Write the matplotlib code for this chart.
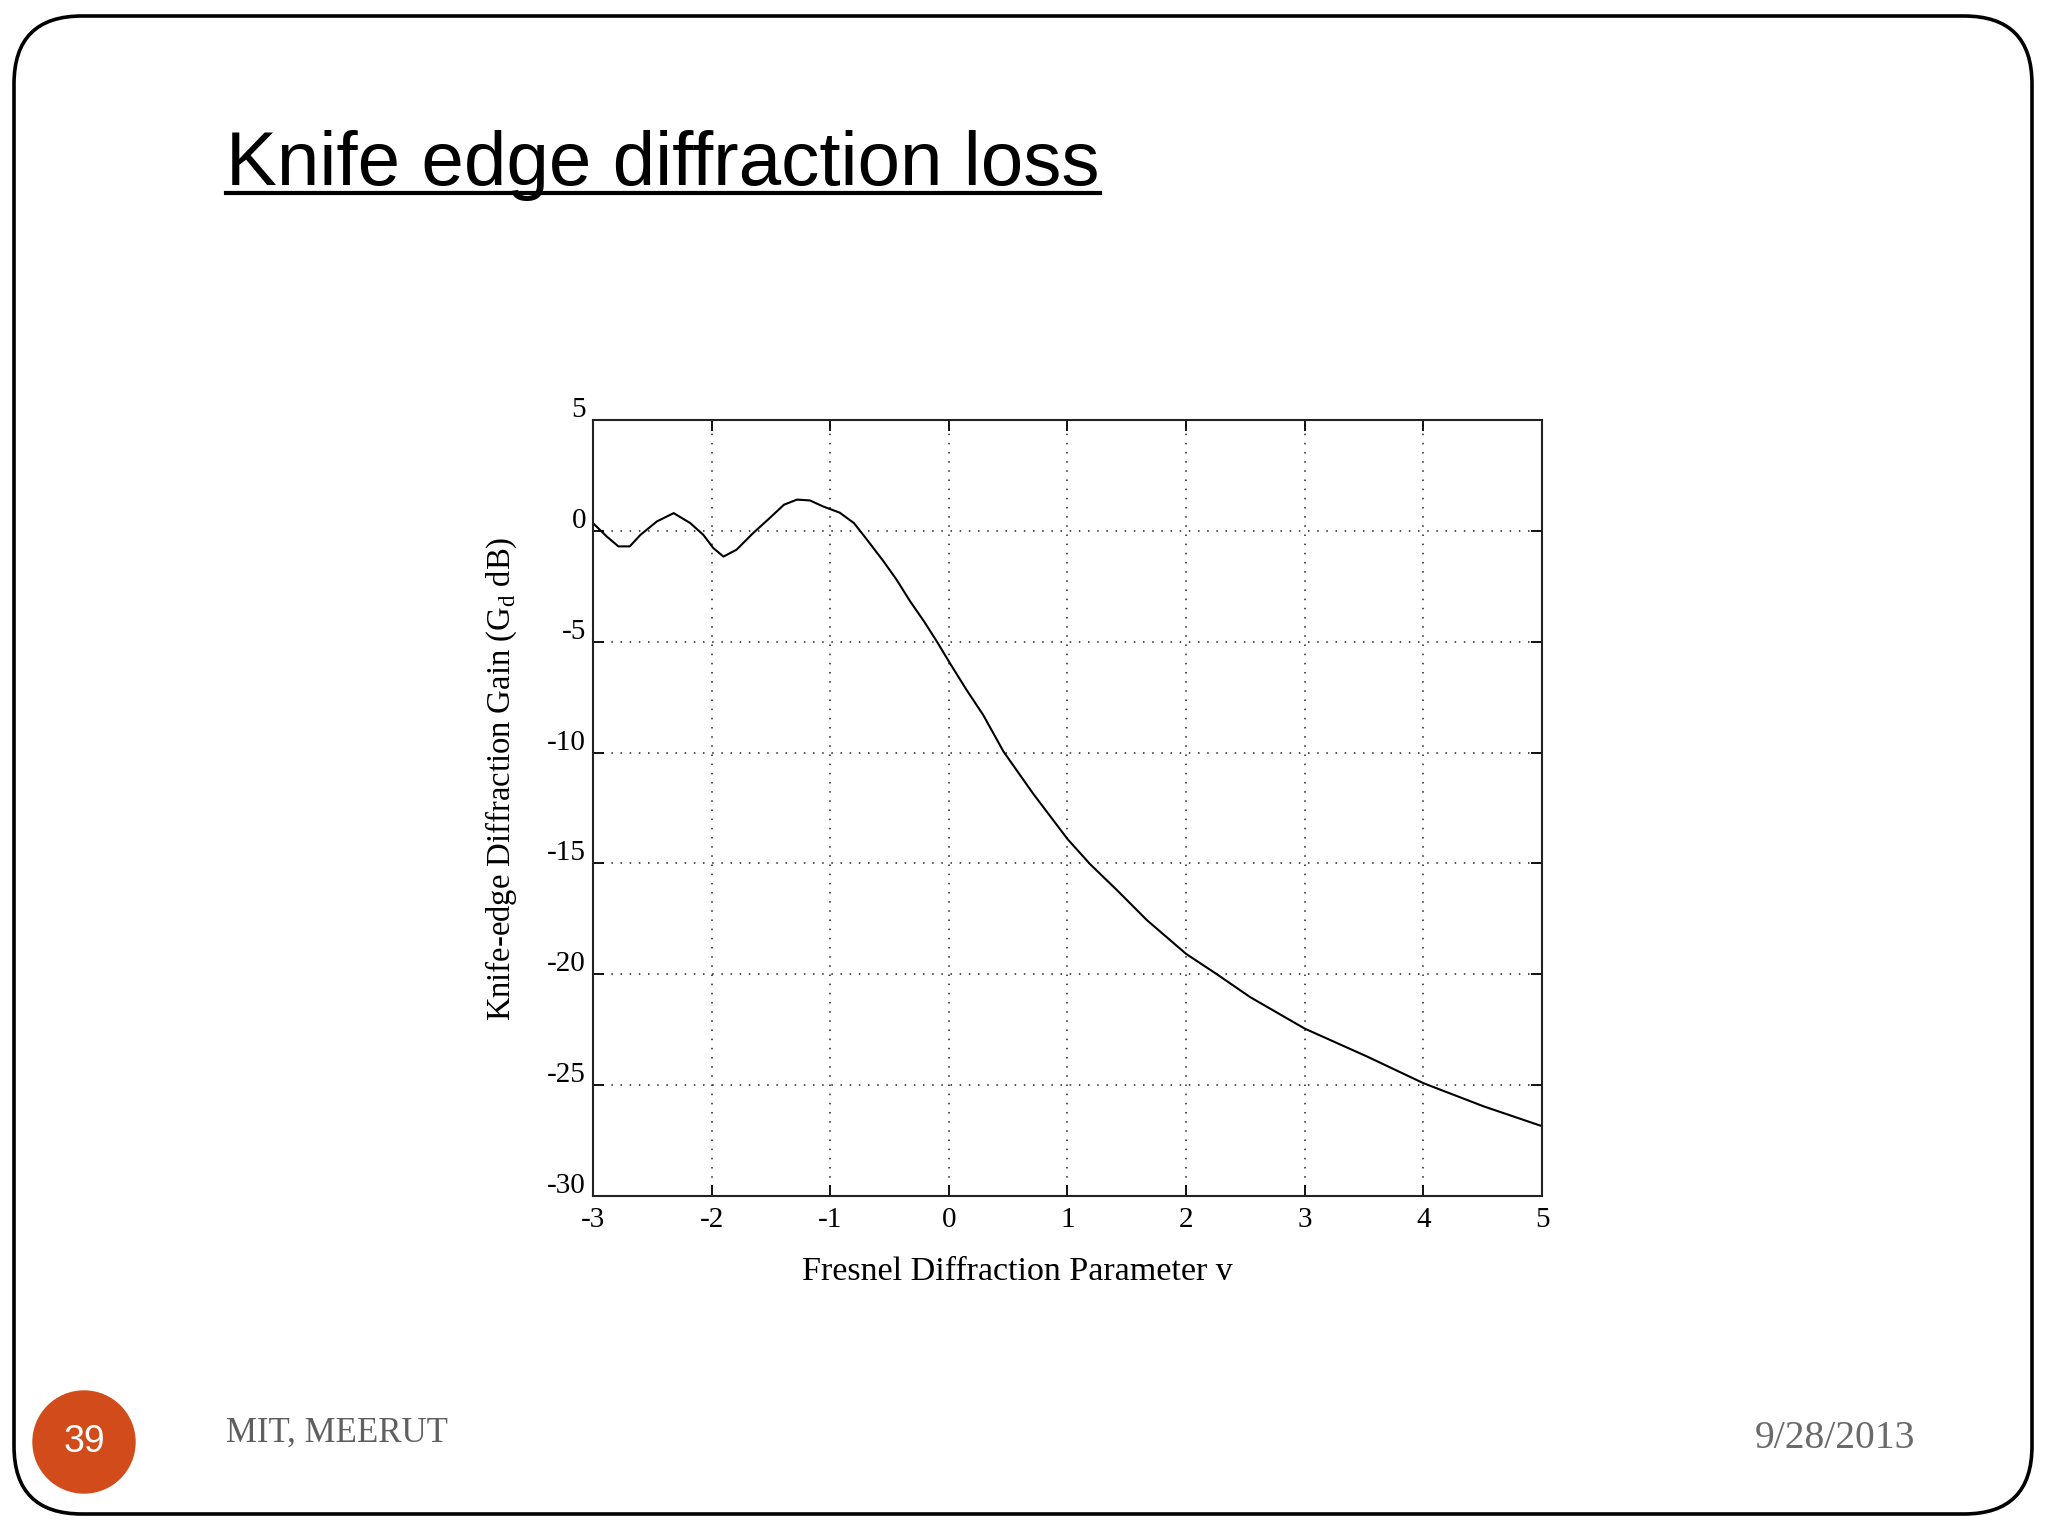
# knife edge diffraction gain - slide recreation
import matplotlib.pyplot as plt
from matplotlib.patches import FancyBboxPatch, Circle
from matplotlib.transforms import ScaledTranslation

# values
v_param = [-3.0, -2.885, -2.786, -2.69, -2.60, -2.46, -2.32, -2.18, -2.07,
           -1.985, -1.90, -1.79, -1.65, -1.51, -1.39, -1.28, -1.17, -1.06,
           -0.92, -0.80, -0.69, -0.55, -0.44, -0.325, -0.21, -0.10, 0.01,
           0.15, 0.29, 0.46, 0.71, 1.0, 1.19, 1.42, 1.67, 2.0, 2.26,
           2.54, 3.0, 3.53, 4.0, 4.51, 5.0]
gain_db = [0.35, -0.25, -0.70, -0.70, -0.18, 0.43, 0.80, 0.35, -0.18,
           -0.78, -1.16, -0.85, -0.10, 0.58, 1.18, 1.41, 1.37, 1.10,
           0.82, 0.35, -0.40, -1.38, -2.21, -3.19, -4.08, -5.0, -5.98,
           -7.18, -8.31, -9.95, -11.85, -13.9, -15.03, -16.22, -17.56, -19.08, -20.0,
           -21.03, -22.45, -23.72, -24.91, -25.96, -26.85]
x_ticks = [-3, -2, -1, 0, 1, 2, 3, 4, 5]
y_ticks = [5, 0, -5, -10, -15, -20, -25, -30]

plt.rcParams['font.family'] = ['Liberation Serif', 'DejaVu Serif']
plt.rcParams['axes.unicode_minus'] = False
plt.rcParams['mathtext.fontset'] = 'custom'
plt.rcParams['mathtext.rm'] = 'Liberation Serif'

fig = plt.figure(figsize=(20.48, 15.36), dpi=100)
fig.patch.set_facecolor('white')

# slide layer in pixel coordinates
bg = fig.add_axes([0, 0, 1, 1])
bg.set_xlim(0, 2048)
bg.set_ylim(1536, 0)
bg.axis('off')
bg.add_patch(FancyBboxPatch((14, 16), 2018, 1498,
                            boxstyle='round,pad=0,rounding_size=68',
                            facecolor='white', edgecolor='black', linewidth=2.6))
bg.add_patch(Circle((84, 1442), 51, color='#D24B1A'))
bg.text(84, 1442, '39', color='white', fontsize=27, ha='center', va='center',
        family=['Liberation Sans', 'DejaVu Sans'])
bg.text(226, 1433, 'MIT, MEERUT', color='#5f5f5f', fontsize=25, va='center')
bg.text(1915, 1438, '9/28/2013', color='#6a6a6a', fontsize=28.5, ha='right', va='center')

titulo = bg.text(226, 185, 'Knife edge diffraction loss', fontsize=55,
                 family=['Liberation Sans', 'DejaVu Sans'], va='baseline')
fig.canvas.draw()
bb = titulo.get_window_extent()
bg.plot([bb.x0, bb.x1], [193, 193], color='black', linewidth=3)

# the chart itself
ax = fig.add_axes([0.28955, 0.22135, 0.46338, 0.50521])
ax.plot(v_param, gain_db, color='black', linewidth=1.5)
ax.set_xlim(-3, 5)
ax.set_ylim(-30, 5)
ax.set_xticks(x_ticks)
ax.set_yticks(y_ticks)
ax.grid(True, color='#222222', linestyle=(0, (1, 5)), linewidth=1.1)
ax.tick_params(direction='in', length=8, width=1.3, top=True, right=True,
               labelsize=21, colors='black')
ax.tick_params(axis='x', pad=8)
ax.tick_params(axis='y', pad=5)
for sp in ax.spines.values():
    sp.set_linewidth(1.5)
    sp.set_color('#222222')

# y labels sit a little above their grid lines in the original
shift = ScaledTranslation(0, 0.13, fig.dpi_scale_trans)
for lbl in ax.get_yticklabels():
    lbl.set_transform(lbl.get_transform() + shift)

ax.set_xlabel('Fresnel Diffraction Parameter v', fontsize=24.5, va='center')
ax.xaxis.set_label_coords(0.447, -0.098)
ax.set_ylabel(r'Knife-edge Diffraction Gain (G$_{\mathrm{d}}$ dB)', fontsize=23.5, va='center')
ax.yaxis.set_label_coords(-0.097, 0.537)

plt.savefig('out.png', dpi=100)
plt.close()
